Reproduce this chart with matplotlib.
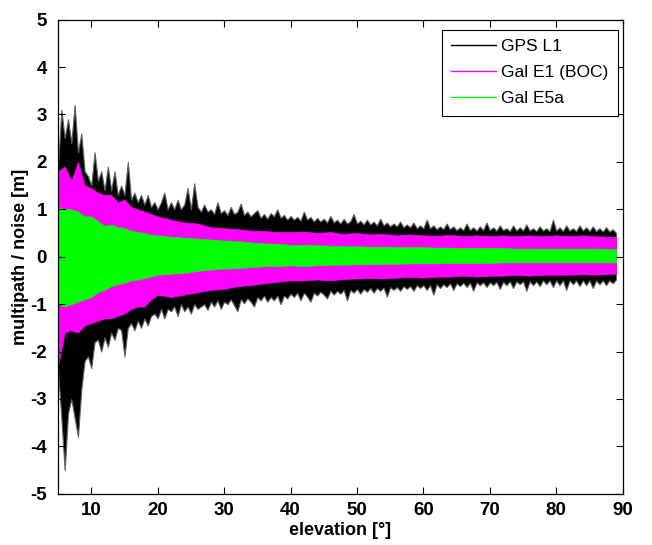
import numpy as np
import matplotlib
matplotlib.use("Agg")
import matplotlib.pyplot as plt
from matplotlib.lines import Line2D

plt.rcParams['font.family'] = ['Liberation Sans', 'DejaVu Sans']
plt.rcParams['axes.unicode_minus'] = False

elev_gps = [5.0, 5.5, 6.0, 6.5, 7.0, 7.5, 8.0, 8.5, 9.0, 9.5,
            10.0, 10.5, 11.0, 11.5, 12.0, 12.5, 13.0, 13.5, 14.0, 14.5,
            15.0, 15.5, 16.0, 16.5, 17.0, 17.5, 18.0, 18.5, 19.0, 19.5,
            20.0, 20.5, 21.0, 21.5, 22.0, 22.5, 23.0, 23.5, 24.0, 24.5,
            25.0, 25.5, 26.0, 26.5,
            27.0, 27.5, 28.0, 28.5, 29.0, 29.5, 30.0, 30.5, 31.0, 31.5,
            32.0, 32.5, 33.0, 33.5, 34.0, 34.5, 35.0, 35.5, 36.0, 36.5,
            37.0, 37.5, 38.0, 38.5, 39.0, 39.5, 40.0, 40.5, 41.0, 41.5,
            42.0, 42.5, 43.0, 43.5, 44.0, 44.5, 45.0, 45.5, 46.0, 46.5,
            47.0, 47.5, 48.0, 48.5, 49.0, 49.5, 50.0, 50.5, 51.0, 51.5,
            52.0, 52.5, 53.0, 53.5, 54.0, 54.5, 55.0, 55.5, 56.0, 56.5,
            57.0, 57.5, 58.0, 58.5, 59.0, 59.5, 60.0, 60.5, 61.0, 61.5,
            62.0, 62.5, 63.0, 63.5, 64.0, 64.5, 65.0, 65.5, 66.0, 66.5,
            67.0, 67.5, 68.0, 68.5, 69.0, 69.5, 70.0, 70.5, 71.0, 71.5,
            72.0, 72.5, 73.0, 73.5, 74.0, 74.5, 75.0, 75.5, 76.0, 76.5,
            77.0, 77.5, 78.0, 78.5, 79.0, 79.5, 80.0, 80.5, 81.0, 81.5,
            82.0, 82.5, 83.0, 83.5, 84.0, 84.5, 85.0, 85.5, 86.0, 86.5,
            87.0, 87.5, 88.0, 88.5, 89.0]
gps_hi = [1.9, 3.1, 2.5, 2.9, 2.4, 3.2, 2.2, 2.6, 1.8, 1.7,
          1.5, 2.2, 1.6, 1.8, 1.4, 1.9, 1.4, 1.8, 1.3, 1.5,
          1.3, 2.0, 1.2, 1.35, 1.15, 1.3, 1.1, 1.3, 1.05, 1.15,
          1.0, 1.15, 1.35, 1.0, 1.15, 1.0, 1.2, 1.0, 1.1, 1.45,
          1.0, 1.55, 1.05, 0.95,
          1.1, 0.95, 1.0, 0.9, 1.15, 0.92, 0.98, 0.88, 1.05, 0.9,
          0.95, 1.12, 0.88, 0.95, 0.85, 0.92, 0.98, 0.82, 0.9, 0.8,
          0.92, 0.85, 1.0, 0.82, 0.88, 0.78, 0.86, 0.78, 0.84, 0.76,
          0.95, 0.78, 0.84, 0.74, 0.82, 0.74, 0.8, 0.72, 0.86, 0.72,
          0.78, 0.7, 0.8, 0.7, 0.75, 0.9, 0.7, 0.76, 0.68, 0.78,
          0.68, 0.74, 0.66, 0.8, 0.66, 0.72, 0.64, 0.7, 0.64, 0.74,
          0.62, 0.68, 0.62, 0.72, 0.6, 0.66, 0.6, 0.78, 0.6, 0.66,
          0.58, 0.64, 0.58, 0.7, 0.58, 0.64, 0.56, 0.62, 0.56, 0.7,
          0.56, 0.62, 0.55, 0.64, 0.56, 0.72, 0.56, 0.62, 0.55, 0.66,
          0.56, 0.6, 0.54, 0.66, 0.55, 0.62, 0.55, 0.68, 0.55, 0.6,
          0.54, 0.64, 0.55, 0.6, 0.54, 0.78, 0.55, 0.62, 0.54, 0.66,
          0.55, 0.6, 0.54, 0.66, 0.55, 0.62, 0.54, 0.64, 0.54, 0.6,
          0.53, 0.62, 0.53, 0.58, 0.5]
gps_lo = [-2.4, -3.4, -4.5, -3.3, -3.0, -3.4, -3.8, -2.8, -2.2, -2.1,
          -2.35, -1.8, -1.75, -2.0, -1.7, -1.9, -1.6, -1.75, -1.5, -1.55,
          -2.1, -1.5, -1.4, -1.55, -1.35, -1.5, -1.3, -1.45, -1.25, -1.2,
          -1.3, -1.1, -1.3, -1.1, -1.15, -1.05, -1.25, -1.0, -1.15, -1.05,
          -1.2, -1.0, -1.1, -1.05,
          -1.0, -1.12, -0.95, -1.05, -0.92, -1.1, -0.95, -1.0, -0.9, -1.02,
          -1.15, -0.9, -0.98, -0.88, -0.95, -1.05, -0.85, -0.92, -0.82, -0.95,
          -0.85, -0.92, -0.82, -1.0, -0.82, -0.88, -0.78, -0.85, -0.76, -0.92,
          -0.76, -0.84, -0.95, -0.76, -0.82, -0.74, -0.8, -0.88, -0.72, -0.8,
          -0.72, -0.78, -0.7, -0.92, -0.7, -0.76, -0.68, -0.78, -0.68, -0.74,
          -0.66, -0.76, -0.66, -0.72, -0.65, -0.84, -0.64, -0.7, -0.64, -0.72,
          -0.62, -0.68, -0.62, -0.72, -0.6, -0.66, -0.6, -0.7, -0.6, -0.8,
          -0.58, -0.66, -0.58, -0.64, -0.56, -0.7, -0.56, -0.62, -0.55, -0.64,
          -0.55, -0.72, -0.54, -0.6, -0.54, -0.64, -0.54, -0.6, -0.53, -0.68,
          -0.53, -0.6, -0.52, -0.66, -0.52, -0.58, -0.52, -0.72, -0.52, -0.6,
          -0.52, -0.62, -0.5, -0.58, -0.5, -0.64, -0.5, -0.6, -0.5, -0.7,
          -0.5, -0.58, -0.5, -0.62, -0.5, -0.6, -0.5, -0.66, -0.5, -0.58,
          -0.5, -0.6, -0.5, -0.56, -0.48]

# --- Galileo envelopes ---
elev_gal = [5, 6, 7, 8, 9, 10, 11, 12, 13, 14, 15, 16, 17, 18, 19, 20,
            22, 24, 26, 28, 30, 32, 34, 36, 38, 40, 42, 44, 46, 48, 50,
            52, 54, 56, 58, 60, 62, 64, 66, 68, 70, 72, 74, 76, 78, 80,
            82, 84, 86, 88, 89]
e1_hi = [1.8, 1.9, 1.6, 2.0, 1.5, 1.45, 1.35, 1.3, 1.3, 1.15, 1.2, 1.05, 1.0, 0.95, 0.9, 0.85,
         0.78, 0.72, 0.7, 0.62, 0.6, 0.58, 0.55, 0.54, 0.52, 0.52, 0.53, 0.5, 0.52, 0.48, 0.5,
         0.47, 0.48, 0.45, 0.47, 0.45, 0.44, 0.46, 0.43, 0.45, 0.43, 0.45, 0.43, 0.45, 0.43, 0.45,
         0.43, 0.45, 0.43, 0.42, 0.42]
e1_lo = [-2.3, -1.6, -1.55, -1.6, -1.45, -1.4, -1.35, -1.3, -1.3, -1.25, -1.2, -1.1, -1.05, -1.05, -0.9, -0.8,
         -0.85, -0.8, -0.75, -0.7, -0.68, -0.62, -0.6, -0.56, -0.53, -0.5, -0.5, -0.48, -0.5, -0.47, -0.46,
         -0.45, -0.46, -0.44, -0.43, -0.44, -0.42, -0.42, -0.4, -0.42, -0.4, -0.4, -0.38, -0.4, -0.38, -0.38,
         -0.38, -0.37, -0.38, -0.36, -0.36]
e5a_hi = [1.05, 1.0, 1.0, 0.95, 0.85, 0.85, 0.75, 0.65, 0.68, 0.62, 0.6, 0.55, 0.52, 0.5, 0.46, 0.45,
          0.42, 0.4, 0.38, 0.36, 0.34, 0.33, 0.3, 0.28, 0.27, 0.25, 0.25, 0.24, 0.23, 0.22, 0.22,
          0.21, 0.21, 0.2, 0.2, 0.2, 0.19, 0.19, 0.18, 0.18, 0.18, 0.18, 0.17, 0.17, 0.17, 0.17,
          0.17, 0.17, 0.17, 0.16, 0.16]
e5a_lo = [-1.0, -1.05, -1.0, -0.95, -0.9, -0.85, -0.75, -0.7, -0.62, -0.58, -0.55, -0.5, -0.48, -0.45, -0.42, -0.38,
          -0.36, -0.34, -0.3, -0.27, -0.25, -0.24, -0.22, -0.2, -0.2, -0.18, -0.2, -0.18, -0.17, -0.17, -0.16,
          -0.16, -0.15, -0.15, -0.14, -0.14, -0.14, -0.13, -0.13, -0.13, -0.13, -0.12, -0.12, -0.12, -0.12, -0.12,
          -0.12, -0.12, -0.12, -0.12, -0.12]

labels = ['GPS L1', 'Gal E1 (BOC)', 'Gal E5a']
colors = ['black', '#ff00ff', '#00ff00']

fig = plt.figure(figsize=(6.52, 5.45), dpi=100)
ax = fig.add_axes([0.089, 0.094, 0.866, 0.870])

ax.fill_between(elev_gps, gps_lo, gps_hi, facecolor=colors[0], edgecolor='#606060', linewidth=0.8)
ax.fill_between(elev_gal, e1_lo, e1_hi, facecolor=colors[1], edgecolor=colors[1], linewidth=0.5)
ax.fill_between(elev_gal, e5a_lo, e5a_hi, facecolor=colors[2], edgecolor=colors[2], linewidth=0.5)

ax.set_xlim(5, 90)
ax.set_ylim(-5, 5)
ax.set_xticks(range(10, 91, 10))
ax.set_yticks(range(-5, 6))
ax.tick_params(direction='in', top=True, right=True, length=5, width=0.8,
               labelsize=13.5)
ax.tick_params(axis='y', pad=8)
ax.tick_params(axis='x', pad=6)
for lab in ax.get_xticklabels() + ax.get_yticklabels():
    lab.set_fontweight('bold')
for s in ax.spines.values():
    s.set_linewidth(0.9)

ax.set_xlabel('elevation [°]', fontsize=13, fontweight='bold', labelpad=2)
ax.set_ylabel('multipath / noise [m]', fontsize=13, fontweight='bold', labelpad=1)

handles = [Line2D([], [], color=c, linewidth=1.0) for c in colors]
leg = ax.legend(handles, labels, loc='upper right', bbox_to_anchor=(0.991, 0.979),
                borderaxespad=0, fancybox=False, framealpha=1, edgecolor='black',
                fontsize=12.5, handlelength=2.6, handletextpad=0.25, labelspacing=0.62,
                borderpad=0.55)
leg.get_frame().set_linewidth(0.8)

fig.savefig('out.png', dpi=100)
